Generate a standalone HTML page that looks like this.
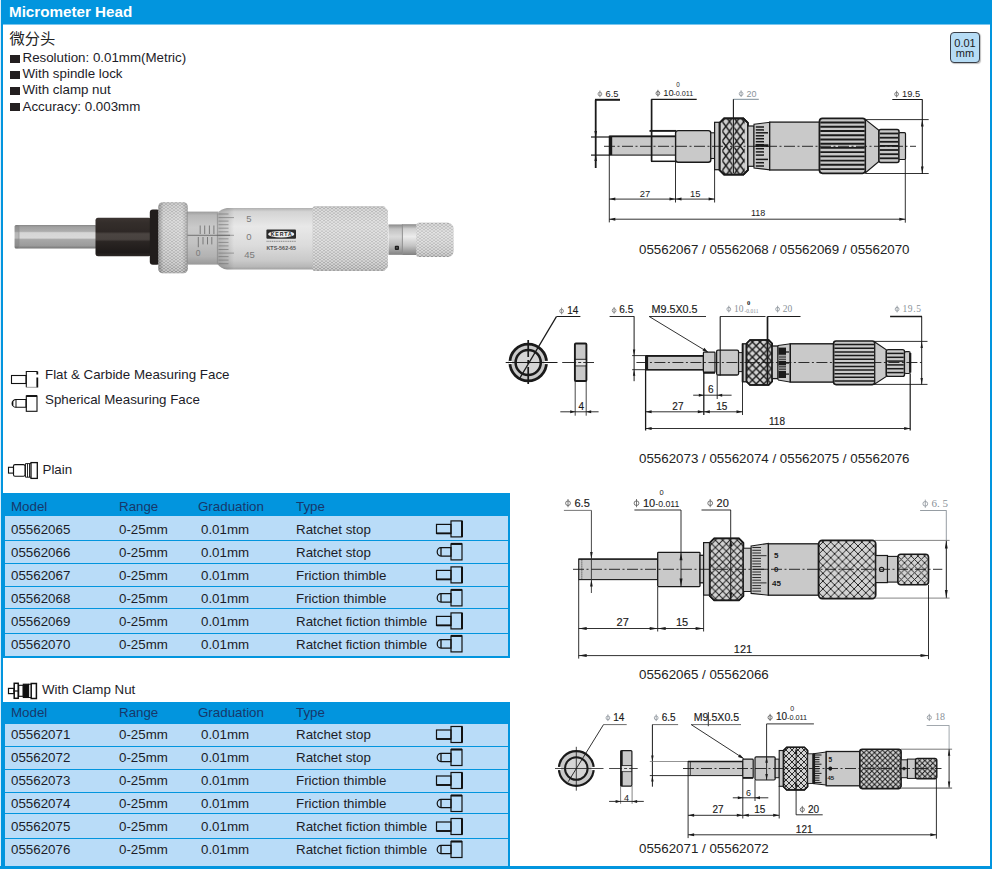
<!DOCTYPE html>
<html><head><meta charset="utf-8"><title>Micrometer Head</title>
<style>
html,body{margin:0;padding:0;background:#fff;}
body{width:992px;height:869px;position:relative;overflow:hidden;font-family:"Liberation Sans",sans-serif;color:#1c1c28;}
.abs{position:absolute;}
.t13{position:absolute;font-size:13.33px;line-height:16px;white-space:nowrap;}
.tbl{position:absolute;left:3px;width:507px;background:#0295de;}
.row{position:absolute;left:2px;width:503px;height:22px;background:#b9dcf8;}
.row span,.hdr span{position:absolute;top:4px;font-size:13px;line-height:16px;white-space:nowrap;}
.hdr{position:absolute;left:0;top:0;width:507px;height:23px;color:#17386b;}
svg{position:absolute;left:0;top:0;overflow:visible;}
svg text{font-family:"Liberation Sans",sans-serif;}
</style></head><body>
<div class="abs" style="left:0;top:0;width:992px;height:24px;background:#0295de;"></div>
<div class="abs" style="left:0;top:24px;width:992px;height:1px;background:#7ac6ee;"></div>
<div class="abs" style="left:0;top:0;width:1px;height:869px;background:#d9eefb;"></div>
<div class="abs" style="left:1px;top:0;width:2px;height:869px;background:#0295de;"></div>
<div class="abs" style="left:990px;top:0;width:2px;height:869px;background:#0295de;"></div>
<div class="abs" style="left:0;top:866px;width:992px;height:3px;background:#0295de;"></div>
<div class="abs" style="left:9px;top:3px;font-size:15.2px;line-height:18px;font-weight:bold;color:#fff;white-space:nowrap;">Micrometer Head</div>
<svg width="992" height="869" viewBox="0 0 992 869"><text x="9.5" y="43.66" font-size="15.3" fill="#222" style="font-family:'Liberation Sans','Noto Sans CJK SC',sans-serif;">微分头</text></svg>
<div class="abs" style="left:10px;top:54.5px;width:10px;height:8px;background:#231f20;"></div><div class="t13" style="left:22.5px;top:49.8px;">Resolution: 0.01mm(Metric)</div>
<div class="abs" style="left:10px;top:70.8px;width:10px;height:8px;background:#231f20;"></div><div class="t13" style="left:22.5px;top:66.1px;">With spindle lock</div>
<div class="abs" style="left:10px;top:87.1px;width:10px;height:8px;background:#231f20;"></div><div class="t13" style="left:22.5px;top:82.4px;">With clamp nut</div>
<div class="abs" style="left:10px;top:103.4px;width:10px;height:8px;background:#231f20;"></div><div class="t13" style="left:22.5px;top:98.7px;">Accuracy: 0.003mm</div>
<svg width="992" height="869" viewBox="0 0 992 869"><g fill="none" stroke="#111" stroke-width="1.1"><rect x="11.5" y="375.5" width="14.5" height="8"/><path d="M26.3 387.3 V371.5 H37.5"/><path d="M37.3 371.5 V374.5 M37.3 377.5 V387.5" stroke-width="1.8"/><path d="M26.3 387.3 H37" stroke="#888" stroke-width="0.8"/><path d="M16 399.5 H26 V407.3 H16 A3.8 3.9 0 0 1 16 399.5 Z"/><path d="M16 399.5 V407.3" stroke-width="1.0"/><path d="M12.6 401.5 V405.5" stroke-width="1.5"/><rect x="26.3" y="396" width="10.7" height="15.3"/><path d="M26.3 396 H37" stroke-width="1.9"/><rect x="8.5" y="467.3" width="5" height="5.8"/><rect x="13.5" y="464.6" width="11.5" height="11.7" rx="1.5"/><path d="M27.5 463.6 V477.2 M29.5 463.6 V477.2 M25.5 463.6 H31 M25.5 477.2 H31 M25.5 463.6 V477.2" stroke-width="0.9"/><rect x="31" y="462.6" width="6.3" height="15.8" stroke-width="1.3"/><rect x="8.5" y="688.4" width="5.5" height="5.2" stroke-width="1.2"/><rect x="14.2" y="683.3" width="4" height="15" stroke-width="1.5"/><path d="M13.5 691 H19" stroke-width="1.2"/><rect x="18.7" y="685.3" width="4.5" height="11" stroke-width="1.1"/><rect x="23.3" y="684.2" width="5.3" height="13.3" fill="#111"/><path d="M28.6 684.2 H31 M28.6 697.5 H31"/><rect x="31.2" y="683.5" width="5.2" height="15" stroke-width="1.5"/></g></svg>
<div class="t13" style="left:45px;top:366.8px;">Flat &amp; Carbide Measuring Face</div>
<div class="t13" style="left:45px;top:392.3px;">Spherical Measuring Face</div>
<div class="t13" style="left:42.5px;top:461.6px;">Plain</div>
<div class="t13" style="left:42px;top:681.8px;">With Clamp Nut</div>
<div class="abs" style="left:950px;top:32px;width:30px;height:31px;box-sizing:border-box;border:1px solid #3a3f48;border-radius:4px;background:#b6dcf5;box-shadow:1px 1px 1px rgba(0,0,0,.25);font-size:11px;line-height:9.5px;text-align:center;color:#1a1a22;padding-top:6px;">0.01<br>mm</div>
<svg width="992" height="869" viewBox="0 0 992 869">
<defs>
<linearGradient id="gSp" x1="0" y1="0" x2="0" y2="1"><stop offset="0" stop-color="#858585"/><stop offset="0.08" stop-color="#a0a0a0"/><stop offset="0.27" stop-color="#adadad"/><stop offset="0.33" stop-color="#d6d6d6"/><stop offset="0.55" stop-color="#d9d9d9"/><stop offset="0.62" stop-color="#a8a8a8"/><stop offset="0.88" stop-color="#9b9b9b"/><stop offset="1" stop-color="#747474"/></linearGradient>
<linearGradient id="gBk" x1="0" y1="0" x2="0" y2="1"><stop offset="0" stop-color="#3c3532"/><stop offset="0.12" stop-color="#342e2b"/><stop offset="0.36" stop-color="#2e2826"/><stop offset="0.42" stop-color="#4b4542"/><stop offset="0.56" stop-color="#48423f"/><stop offset="0.62" stop-color="#2a2523"/><stop offset="0.9" stop-color="#1e1a19"/><stop offset="1" stop-color="#2c2725"/></linearGradient>
<linearGradient id="gKn" x1="0" y1="0" x2="0" y2="1"><stop offset="0" stop-color="#a8a8a8"/><stop offset="0.05" stop-color="#bcbcbc"/><stop offset="0.3" stop-color="#cbcbcb"/><stop offset="0.6" stop-color="#c2c2c2"/><stop offset="0.85" stop-color="#b4b4b4"/><stop offset="0.96" stop-color="#a4a4a4"/><stop offset="1" stop-color="#929292"/></linearGradient>
<linearGradient id="gSl" x1="0" y1="0" x2="0" y2="1"><stop offset="0" stop-color="#b0b0b0"/><stop offset="0.06" stop-color="#d4d4d4"/><stop offset="0.3" stop-color="#e8e8e8"/><stop offset="0.6" stop-color="#dcdcdc"/><stop offset="0.85" stop-color="#cacaca"/><stop offset="0.95" stop-color="#b8b8b8"/><stop offset="1" stop-color="#a0a0a0"/></linearGradient>
<linearGradient id="gSv" x1="0" y1="0" x2="0" y2="1"><stop offset="0" stop-color="#9c9c9c"/><stop offset="0.07" stop-color="#b8b8b8"/><stop offset="0.3" stop-color="#cacaca"/><stop offset="0.6" stop-color="#c2c2c2"/><stop offset="0.85" stop-color="#b2b2b2"/><stop offset="1" stop-color="#999"/></linearGradient>
<linearGradient id="gEdge" x1="0" y1="0" x2="1" y2="0"><stop offset="0" stop-color="#000" stop-opacity=".28"/><stop offset=".18" stop-color="#000" stop-opacity=".04"/><stop offset=".8" stop-color="#000" stop-opacity=".02"/><stop offset="1" stop-color="#000" stop-opacity=".2"/></linearGradient><linearGradient id="gNk" x1="0" y1="0" x2="0" y2="1"><stop offset="0" stop-color="#8a8a8a"/><stop offset="0.15" stop-color="#cfcfcf"/><stop offset="0.4" stop-color="#ececec"/><stop offset="0.7" stop-color="#c4c4c4"/><stop offset="1" stop-color="#808080"/></linearGradient>
<pattern id="pKn" width="4" height="3" patternUnits="userSpaceOnUse"><path d="M0 0 L4 3 M4 0 L0 3" stroke="#fff" stroke-opacity=".6" stroke-width=".8" fill="none"/><path d="M2 0 L2.6 .5 L2 1 L1.4 .5Z M0 1.5 L.6 2 L0 2.5 L-.6 2Z M4 1.5 L4.6 2 L4 2.5 L3.4 2Z" fill="#555" fill-opacity=".25"/></pattern>
</defs>
<rect x="14.6" y="225" width="82" height="23.5" rx="1.5" fill="url(#gSp)"/><rect x="14.6" y="225" width="4.2" height="23.5" rx="1.5" fill="#666" fill-opacity=".28"/><path d="M19 225.3 V248.2" stroke="#888" stroke-width=".6"/><rect x="95.5" y="217.8" width="55.5" height="38.4" rx="2.5" fill="url(#gBk)"/><rect x="149.8" y="209.5" width="10" height="55.3" rx="3" fill="#211d1c"/><rect x="158.3" y="202.2" width="29.5" height="71" rx="4.5" fill="url(#gKn)"/><rect x="158.3" y="202.2" width="29.5" height="71" rx="4.5" fill="url(#pKn)"/><rect x="158.3" y="202.2" width="29.5" height="71" rx="4.5" fill="url(#gEdge)"/><rect x="187.3" y="211.6" width="31" height="53" fill="url(#gSv)"/><path d="M187.3 212 V263.5" stroke="#777" stroke-width=".8" stroke-opacity=".6"/><path d="M217.4 213.3 Q221 209 227 208 H313 V269.6 H227 Q221 268.8 217.4 264 Z" fill="url(#gSl)"/><linearGradient id="gBev" x1="0" y1="0" x2="1" y2="0"><stop offset="0" stop-color="#000" stop-opacity=".2"/><stop offset=".7" stop-color="#000" stop-opacity=".08"/><stop offset="1" stop-color="#000" stop-opacity="0"/></linearGradient><path d="M217.4 213.3 Q221 209 227 208 H234 V269.6 H227 Q221 268.8 217.4 264 Z" fill="url(#gBev)"/><path d="M217.4 213.3 V264" stroke="#8a8a8a" stroke-width=".7"/><g stroke="#555" stroke-width=".8" stroke-opacity=".85"><path d="M187.5 235.3 H230" stroke-width=".9"/><path d="M200.2 225.5 V234"/><path d="M204.7 225.5 V234"/><path d="M209.4 225.5 V234"/><path d="M213.9 225.5 V234"/><path d="M203 237 V244.4"/><path d="M207.5 237 V244.4"/><path d="M211.8 237 V244.4"/><path d="M198.3 237 V247.2"/></g><g stroke="#666" stroke-width=".7" stroke-opacity=".8"><path d="M218.5 214.0 H228.5"/><path d="M218.5 217.6 H234"/><path d="M218.5 221.1 H228.5"/><path d="M218.5 224.7 H228.5"/><path d="M218.5 228.2 H228.5"/><path d="M218.5 231.8 H228.5"/><path d="M218.5 235.3 H234"/><path d="M218.5 238.8 H228.5"/><path d="M218.5 242.4 H228.5"/><path d="M218.5 245.9 H228.5"/><path d="M218.5 249.5 H228.5"/><path d="M218.5 253.1 H234"/><path d="M218.5 256.6 H228.5"/><path d="M218.5 260.1 H228.5"/><path d="M218.5 263.7 H228.5"/></g><g fill="#7a7a7a" font-size="9.5" text-anchor="middle"><text x="198" y="256.3" font-size="8.5">0</text><text x="249" y="222.4">5</text><text x="249" y="240">0</text><text x="249.5" y="257.8">45</text></g><rect x="266.4" y="229.6" width="29.6" height="9.2" rx="1" fill="#2a2a2a"/><ellipse cx="281.2" cy="234.2" rx="13" ry="3.3" fill="#eee"/><text x="281.2" y="236.2" font-size="5.2" font-weight="bold" text-anchor="middle" fill="#222" textLength="21">KERTA</text><path d="M266.5 241.4 H296" stroke="#999" stroke-width="1.2" stroke-dasharray="1.2 .6"/><text x="266.4" y="250.2" font-size="5.3" font-weight="bold" fill="#555" textLength="29.6">KTS-562-65</text><path d="M315 206.2 H384 L387.9 210.5 V267 L384 271 H315 Q312.5 271 312.5 268.5 V208.7 Q312.5 206.2 315 206.2 Z" fill="url(#gKn)"/><path d="M315 206.2 H384 L387.9 210.5 V267 L384 271 H315 Q312.5 271 312.5 268.5 V208.7 Q312.5 206.2 315 206.2 Z" fill="url(#pKn)"/><rect x="388.5" y="224.5" width="14" height="30.3" fill="url(#gNk)"/><rect x="402.4" y="224.2" width="15" height="30.8" fill="url(#gNk)"/><rect x="388.5" y="224.5" width="14" height="30.3" fill="#888" fill-opacity=".18"/><path d="M402.4 224.2 V255" stroke="#8a8a8a" stroke-width=".9"/><rect x="394.8" y="245.7" width="4.2" height="4.2" rx="1" fill="#1e1e1e"/><rect x="396.1" y="247" width="1.6" height="1.6" fill="#555"/><path d="M419 222.8 H448 Q453.6 224 453.6 229 V251 Q453.6 256 448 257 H419 Q416.3 257 416.3 254.5 V225.3 Q416.3 222.8 419 222.8 Z" fill="url(#gKn)"/><path d="M419 222.8 H448 Q453.6 224 453.6 229 V251 Q453.6 256 448 257 H419 Q416.3 257 416.3 254.5 V225.3 Q416.3 222.8 419 222.8 Z" fill="url(#pKn)"/></svg>
<div class="abs" style="left:3px;top:493px;width:507px;height:165px;background:#0295de;"></div>
<div class="abs" style="left:5px;top:516px;width:503px;height:24px;background:#b9dcf8;"></div>
<div class="abs" style="left:5px;top:541px;width:503px;height:22px;background:#b9dcf8;"></div>
<div class="abs" style="left:5px;top:564px;width:503px;height:22px;background:#b9dcf8;"></div>
<div class="abs" style="left:5px;top:587px;width:503px;height:21px;background:#b9dcf8;"></div>
<div class="abs" style="left:5px;top:609px;width:503px;height:24px;background:#b9dcf8;"></div>
<div class="abs" style="left:5px;top:634px;width:503px;height:22px;background:#b9dcf8;"></div>
<div class="t13" style="left:11px;top:498.8px;color:#17386b;">Model</div><div class="t13" style="left:119px;top:498.8px;color:#17386b;">Range</div><div class="t13" style="left:198px;top:498.8px;color:#17386b;">Graduation</div><div class="t13" style="left:296px;top:498.8px;color:#17386b;">Type</div>
<div class="t13" style="left:11px;top:521.8px;color:#1c1c28;">05562065</div><div class="t13" style="left:119px;top:521.8px;color:#1c1c28;">0-25mm</div><div class="t13" style="left:201px;top:521.8px;color:#1c1c28;">0.01mm</div><div class="t13" style="left:296px;top:521.8px;color:#1c1c28;">Ratchet stop</div>
<div class="t13" style="left:11px;top:544.8px;color:#1c1c28;">05562066</div><div class="t13" style="left:119px;top:544.8px;color:#1c1c28;">0-25mm</div><div class="t13" style="left:201px;top:544.8px;color:#1c1c28;">0.01mm</div><div class="t13" style="left:296px;top:544.8px;color:#1c1c28;">Ratchet stop</div>
<div class="t13" style="left:11px;top:567.8px;color:#1c1c28;">05562067</div><div class="t13" style="left:119px;top:567.8px;color:#1c1c28;">0-25mm</div><div class="t13" style="left:201px;top:567.8px;color:#1c1c28;">0.01mm</div><div class="t13" style="left:296px;top:567.8px;color:#1c1c28;">Friction thimble</div>
<div class="t13" style="left:11px;top:590.8px;color:#1c1c28;">05562068</div><div class="t13" style="left:119px;top:590.8px;color:#1c1c28;">0-25mm</div><div class="t13" style="left:201px;top:590.8px;color:#1c1c28;">0.01mm</div><div class="t13" style="left:296px;top:590.8px;color:#1c1c28;">Friction thimble</div>
<div class="t13" style="left:11px;top:613.8px;color:#1c1c28;">05562069</div><div class="t13" style="left:119px;top:613.8px;color:#1c1c28;">0-25mm</div><div class="t13" style="left:201px;top:613.8px;color:#1c1c28;">0.01mm</div><div class="t13" style="left:296px;top:613.8px;color:#1c1c28;">Ratchet fiction thimble</div>
<div class="t13" style="left:11px;top:636.8px;color:#1c1c28;">05562070</div><div class="t13" style="left:119px;top:636.8px;color:#1c1c28;">0-25mm</div><div class="t13" style="left:201px;top:636.8px;color:#1c1c28;">0.01mm</div><div class="t13" style="left:296px;top:636.8px;color:#1c1c28;">Ratchet fiction thimble</div>
<svg width="992" height="869" viewBox="0 0 992 869"><g fill="none" stroke="#111" stroke-width="1.2"><rect x="436.5" y="524.4" width="14.5" height="9"/><rect x="451" y="520.9" width="11" height="16"/><path d="M462 520.9 V536.9" stroke-width="2"/><path d="M436.5 533.4 H451" stroke-width="1.8"/></g><g fill="none" stroke="#111" stroke-width="1.2"><path d="M441 547.6999999999999 H451 V556.1 H441 A3.8 4.2 0 0 1 441 547.6999999999999 Z"/><path d="M441 547.6999999999999 V556.1" stroke-width="1.3"/><rect x="451" y="543.9" width="11" height="16"/><path d="M451 543.9 H462" stroke-width="2"/></g><g fill="none" stroke="#111" stroke-width="1.2"><rect x="436.5" y="570.4" width="14.5" height="9"/><rect x="451" y="566.9" width="11" height="16"/><path d="M462 566.9 V582.9" stroke-width="2"/><path d="M436.5 579.4 H451" stroke-width="1.8"/></g><g fill="none" stroke="#111" stroke-width="1.2"><path d="M441 593.6999999999999 H451 V602.1 H441 A3.8 4.2 0 0 1 441 593.6999999999999 Z"/><path d="M441 593.6999999999999 V602.1" stroke-width="1.3"/><rect x="451" y="589.9" width="11" height="16"/><path d="M451 589.9 H462" stroke-width="2"/></g><g fill="none" stroke="#111" stroke-width="1.2"><rect x="436.5" y="616.4" width="14.5" height="9"/><rect x="451" y="612.9" width="11" height="16"/><path d="M462 612.9 V628.9" stroke-width="2"/><path d="M436.5 625.4 H451" stroke-width="1.8"/></g><g fill="none" stroke="#111" stroke-width="1.2"><path d="M441 639.6999999999999 H451 V648.1 H441 A3.8 4.2 0 0 1 441 639.6999999999999 Z"/><path d="M441 639.6999999999999 V648.1" stroke-width="1.3"/><rect x="451" y="635.9" width="11" height="16"/><path d="M451 635.9 H462" stroke-width="2"/></g></svg>
<div class="abs" style="left:3px;top:702px;width:507px;height:165px;background:#0295de;"></div>
<div class="abs" style="left:5px;top:724px;width:503px;height:22px;background:#b9dcf8;"></div>
<div class="abs" style="left:5px;top:747px;width:503px;height:22px;background:#b9dcf8;"></div>
<div class="abs" style="left:5px;top:770px;width:503px;height:22px;background:#b9dcf8;"></div>
<div class="abs" style="left:5px;top:793px;width:503px;height:20px;background:#b9dcf8;"></div>
<div class="abs" style="left:5px;top:814px;width:503px;height:24px;background:#b9dcf8;"></div>
<div class="abs" style="left:5px;top:839px;width:503px;height:27px;background:#b9dcf8;"></div>
<div class="t13" style="left:11px;top:704.6px;color:#17386b;">Model</div><div class="t13" style="left:119px;top:704.6px;color:#17386b;">Range</div><div class="t13" style="left:198px;top:704.6px;color:#17386b;">Graduation</div><div class="t13" style="left:296px;top:704.6px;color:#17386b;">Type</div>
<div class="t13" style="left:11px;top:727.4px;color:#1c1c28;">05562071</div><div class="t13" style="left:119px;top:727.4px;color:#1c1c28;">0-25mm</div><div class="t13" style="left:201px;top:727.4px;color:#1c1c28;">0.01mm</div><div class="t13" style="left:296px;top:727.4px;color:#1c1c28;">Ratchet stop</div>
<div class="t13" style="left:11px;top:750.4px;color:#1c1c28;">05562072</div><div class="t13" style="left:119px;top:750.4px;color:#1c1c28;">0-25mm</div><div class="t13" style="left:201px;top:750.4px;color:#1c1c28;">0.01mm</div><div class="t13" style="left:296px;top:750.4px;color:#1c1c28;">Ratchet stop</div>
<div class="t13" style="left:11px;top:773.4px;color:#1c1c28;">05562073</div><div class="t13" style="left:119px;top:773.4px;color:#1c1c28;">0-25mm</div><div class="t13" style="left:201px;top:773.4px;color:#1c1c28;">0.01mm</div><div class="t13" style="left:296px;top:773.4px;color:#1c1c28;">Friction thimble</div>
<div class="t13" style="left:11px;top:796.4px;color:#1c1c28;">05562074</div><div class="t13" style="left:119px;top:796.4px;color:#1c1c28;">0-25mm</div><div class="t13" style="left:201px;top:796.4px;color:#1c1c28;">0.01mm</div><div class="t13" style="left:296px;top:796.4px;color:#1c1c28;">Friction thimble</div>
<div class="t13" style="left:11px;top:819.4px;color:#1c1c28;">05562075</div><div class="t13" style="left:119px;top:819.4px;color:#1c1c28;">0-25mm</div><div class="t13" style="left:201px;top:819.4px;color:#1c1c28;">0.01mm</div><div class="t13" style="left:296px;top:819.4px;color:#1c1c28;">Ratchet fiction thimble</div>
<div class="t13" style="left:11px;top:842.4px;color:#1c1c28;">05562076</div><div class="t13" style="left:119px;top:842.4px;color:#1c1c28;">0-25mm</div><div class="t13" style="left:201px;top:842.4px;color:#1c1c28;">0.01mm</div><div class="t13" style="left:296px;top:842.4px;color:#1c1c28;">Ratchet fiction thimble</div>
<svg width="992" height="869" viewBox="0 0 992 869"><g fill="none" stroke="#111" stroke-width="1.2"><rect x="436.5" y="730.0" width="14.5" height="9"/><rect x="451" y="726.5" width="11" height="16"/><path d="M462 726.5 V742.5" stroke-width="2"/><path d="M436.5 739.0 H451" stroke-width="1.8"/></g><g fill="none" stroke="#111" stroke-width="1.2"><path d="M441 753.3 H451 V761.7 H441 A3.8 4.2 0 0 1 441 753.3 Z"/><path d="M441 753.3 V761.7" stroke-width="1.3"/><rect x="451" y="749.5" width="11" height="16"/><path d="M451 749.5 H462" stroke-width="2"/></g><g fill="none" stroke="#111" stroke-width="1.2"><rect x="436.5" y="776.0" width="14.5" height="9"/><rect x="451" y="772.5" width="11" height="16"/><path d="M462 772.5 V788.5" stroke-width="2"/><path d="M436.5 785.0 H451" stroke-width="1.8"/></g><g fill="none" stroke="#111" stroke-width="1.2"><path d="M441 799.3 H451 V807.7 H441 A3.8 4.2 0 0 1 441 799.3 Z"/><path d="M441 799.3 V807.7" stroke-width="1.3"/><rect x="451" y="795.5" width="11" height="16"/><path d="M451 795.5 H462" stroke-width="2"/></g><g fill="none" stroke="#111" stroke-width="1.2"><rect x="436.5" y="822.0" width="14.5" height="9"/><rect x="451" y="818.5" width="11" height="16"/><path d="M462 818.5 V834.5" stroke-width="2"/><path d="M436.5 831.0 H451" stroke-width="1.8"/></g><g fill="none" stroke="#111" stroke-width="1.2"><path d="M441 845.3 H451 V853.7 H441 A3.8 4.2 0 0 1 441 845.3 Z"/><path d="M441 845.3 V853.7" stroke-width="1.3"/><rect x="451" y="841.5" width="11" height="16"/><path d="M451 841.5 H462" stroke-width="2"/></g></svg>
<svg width="992" height="869" viewBox="0 0 992 869"><defs><pattern id="h1" x="722.3" y="121.5" width="7.2" height="9.8" patternUnits="userSpaceOnUse"><path d="M0 0 L7.2 9.8 M7.2 0 L0 9.8" stroke="#1a1a1a" stroke-width="1.45" fill="none"/></pattern><pattern id="h2" width="7.6" height="7.6" patternUnits="userSpaceOnUse"><path d="M0 0 L7.6 7.6 M7.6 0 L0 7.6" stroke="#1a1a1a" stroke-width="1.4" fill="none"/></pattern><pattern id="h3a" width="7.3" height="7.3" patternUnits="userSpaceOnUse"><path d="M0 0 L7.3 7.3 M7.3 0 L0 7.3" stroke="#1a1a1a" stroke-width="0.95" fill="none"/></pattern><pattern id="h3" width="7.8" height="7.8" patternUnits="userSpaceOnUse"><path d="M0 0 L7.8 7.8 M7.8 0 L0 7.8" stroke="#1a1a1a" stroke-width="0.95" fill="none"/></pattern><pattern id="h3c" width="6.7" height="6.7" patternUnits="userSpaceOnUse"><path d="M0 0 L6.7 6.7 M6.7 0 L0 6.7" stroke="#1a1a1a" stroke-width="0.9" fill="none"/></pattern><pattern id="h4a" width="6.0" height="6.0" patternUnits="userSpaceOnUse"><path d="M0 0 L6.0 6.0 M6.0 0 L0 6.0" stroke="#1a1a1a" stroke-width="0.9" fill="none"/></pattern><pattern id="h4" width="5.3" height="5.3" patternUnits="userSpaceOnUse"><path d="M0 0 L5.3 5.3 M5.3 0 L0 5.3" stroke="#1a1a1a" stroke-width="1.0" fill="none"/></pattern><pattern id="h4c" width="5.3" height="5.3" patternUnits="userSpaceOnUse"><path d="M0 0 L5.3 5.3 M5.3 0 L0 5.3" stroke="#1a1a1a" stroke-width="1.0" fill="none"/></pattern></defs><g><rect x="609.3" y="136.3" width="66.3" height="18.8" rx="0" fill="#c9c9c9" stroke="#1a1a1a" stroke-width="1.1"/><path d="M609.3 136.3 L675.6 136.3" stroke="#1a1a1a" stroke-width="1.8" fill="none"/><rect x="609" y="136.3" width="3.2" height="18.8" fill="#1a1a1a"/><rect x="675.6" y="130.6" width="35.2" height="31.7" rx="2.5" fill="#c9c9c9" stroke="#1a1a1a" stroke-width="1.4"/><rect x="710.8" y="132.8" width="3.8" height="25.7" rx="0" fill="#c9c9c9" stroke="#1a1a1a" stroke-width="1.1"/><rect x="714.6" y="122.3" width="5.0" height="47.4" rx="0" fill="#c9c9c9" stroke="#1a1a1a" stroke-width="1.2"/><path d="M724.1 118.3 H743.4 L747.9 122.8 V170.1 L743.4 174.6 H724.1 L719.6 170.1 V122.8 Z" fill="#d0d0d0" stroke="#1a1a1a" stroke-width="1.7"/><clipPath id="ck1"><path d="M724.1 118.3 H743.4 L747.9 122.8 V170.1 L743.4 174.6 H724.1 L719.6 170.1 V122.8 Z"/></clipPath><rect x="722.3" y="118.3" width="22.4" height="56.3" fill="url(#h1)" clip-path="url(#ck1)"/><path d="M724.1 118.3 H743.4 L747.9 122.8 V170.1 L743.4 174.6 H724.1 L719.6 170.1 V122.8 Z" fill="none" stroke="#1a1a1a" stroke-width="1.7"/><rect x="747.9" y="126" width="6.1" height="40.3" rx="0" fill="#c9c9c9" stroke="#1a1a1a" stroke-width="1.2"/><path d="M754 124.2 L769.7 122.3 V169.8 L754 168 Z" fill="#c9c9c9" stroke="#1a1a1a" stroke-width="1.1"/><path d="M755.8 127 L764 127" stroke="#1a1a1a" stroke-width="1.5" fill="none"/><path d="M755.8 129.9 L764 129.9" stroke="#1a1a1a" stroke-width="1.5" fill="none"/><path d="M755.8 132.8 L768 132.8" stroke="#1a1a1a" stroke-width="1.5" fill="none"/><path d="M755.8 135.8 L764 135.8" stroke="#1a1a1a" stroke-width="1.5" fill="none"/><path d="M755.8 138.7 L764 138.7" stroke="#1a1a1a" stroke-width="1.5" fill="none"/><path d="M755.8 141.7 L764 141.7" stroke="#1a1a1a" stroke-width="1.5" fill="none"/><path d="M755.8 144.7 L764 144.7" stroke="#1a1a1a" stroke-width="1.5" fill="none"/><path d="M755.8 148.7 L764 148.7" stroke="#1a1a1a" stroke-width="1.5" fill="none"/><path d="M755.8 151.9 L764 151.9" stroke="#1a1a1a" stroke-width="1.5" fill="none"/><path d="M755.8 155.1 L764 155.1" stroke="#1a1a1a" stroke-width="1.5" fill="none"/><path d="M755.8 159.4 L768 159.4" stroke="#1a1a1a" stroke-width="1.5" fill="none"/><path d="M755.8 162.7 L764 162.7" stroke="#1a1a1a" stroke-width="1.5" fill="none"/><path d="M755.8 166 L764 166" stroke="#1a1a1a" stroke-width="1.5" fill="none"/><path d="M755.5 145.6 L768.5 145.6" stroke="#1a1a1a" stroke-width="2.6" fill="none"/><rect x="769.7" y="122.1" width="49.8" height="47.9" rx="0" fill="#c9c9c9" stroke="#1a1a1a" stroke-width="1.3"/><rect x="819.5" y="118.3" width="46.0" height="55.0" rx="3" fill="#c9c9c9" stroke="#1a1a1a" stroke-width="1.7"/><path d="M820.3 122.5 L864.7 122.5" stroke="#1a1a1a" stroke-width="1.9" fill="none"/><path d="M820.3 126.8 L864.7 126.8" stroke="#1a1a1a" stroke-width="1.9" fill="none"/><path d="M820.3 131.0 L864.7 131.0" stroke="#1a1a1a" stroke-width="1.9" fill="none"/><path d="M820.3 135.2 L864.7 135.2" stroke="#1a1a1a" stroke-width="1.9" fill="none"/><path d="M820.3 139.5 L864.7 139.5" stroke="#1a1a1a" stroke-width="1.9" fill="none"/><path d="M820.3 143.7 L864.7 143.7" stroke="#1a1a1a" stroke-width="1.9" fill="none"/><path d="M820.3 147.9 L864.7 147.9" stroke="#1a1a1a" stroke-width="1.9" fill="none"/><path d="M820.3 152.1 L864.7 152.1" stroke="#1a1a1a" stroke-width="1.9" fill="none"/><path d="M820.3 156.4 L864.7 156.4" stroke="#1a1a1a" stroke-width="1.9" fill="none"/><path d="M820.3 160.6 L864.7 160.6" stroke="#1a1a1a" stroke-width="1.9" fill="none"/><path d="M820.3 164.8 L864.7 164.8" stroke="#1a1a1a" stroke-width="1.9" fill="none"/><path d="M820.3 169.1 L864.7 169.1" stroke="#1a1a1a" stroke-width="1.9" fill="none"/><path d="M865.5 119.6 L878.9 130.2 V161.4 L865.5 172.8 Z" fill="#c9c9c9" stroke="#1a1a1a" stroke-width="1.2"/><rect x="878.9" y="129.4" width="20.1" height="33.0" rx="2" fill="#c9c9c9" stroke="#1a1a1a" stroke-width="1.5"/><path d="M879.6999999999999 133.5 L898.2 133.5" stroke="#1a1a1a" stroke-width="1.8" fill="none"/><path d="M879.6999999999999 137.7 L898.2 137.7" stroke="#1a1a1a" stroke-width="1.8" fill="none"/><path d="M879.6999999999999 141.8 L898.2 141.8" stroke="#1a1a1a" stroke-width="1.8" fill="none"/><path d="M879.6999999999999 145.9 L898.2 145.9" stroke="#1a1a1a" stroke-width="1.8" fill="none"/><path d="M879.6999999999999 150.0 L898.2 150.0" stroke="#1a1a1a" stroke-width="1.8" fill="none"/><path d="M879.6999999999999 154.2 L898.2 154.2" stroke="#1a1a1a" stroke-width="1.8" fill="none"/><path d="M879.6999999999999 158.3 L898.2 158.3" stroke="#1a1a1a" stroke-width="1.8" fill="none"/><rect x="899" y="132.7" width="6.5" height="26.8" rx="1" fill="#c9c9c9" stroke="#1a1a1a" stroke-width="1.2"/><path d="M604 146.3 H916" stroke="#1a1a1a" stroke-width="0.9" stroke-dasharray="11 2.5 2 2.5" fill="none"/><ellipse cx="599.9" cy="94.0" rx="1.9" ry="1.9" fill="none" stroke="#777" stroke-width="0.8"/><path d="M599.9 90.5 V97.2" stroke="#777" stroke-width="0.8"/><text x="605.5" y="96.7" font-size="9.3" fill="#1a1a1a" text-anchor="start">6.5</text><path d="M595 99.8 L620 99.8" stroke="#1a1a1a" stroke-width="2.0" fill="none"/><path d="M595.7 99.8 L595.7 168" stroke="#1a1a1a" stroke-width="1.8" fill="none"/><path d="M591 137 L609.5 137" stroke="#1a1a1a" stroke-width="1.2" fill="none"/><path d="M591 155.1 L609.5 155.1" stroke="#1a1a1a" stroke-width="1.2" fill="none"/><polygon points="595.7,137.0 594.4,131.0 597.0,131.0" fill="#1a1a1a"/><polygon points="595.7,155.1 594.4,161.1 597.0,161.1" fill="#1a1a1a"/><ellipse cx="657.9" cy="93.3" rx="1.9" ry="1.9" fill="none" stroke="#555" stroke-width="0.8"/><path d="M657.9 89.8 V96.5" stroke="#555" stroke-width="0.8"/><text x="663.3" y="96" font-size="9.3" fill="#1a1a1a" text-anchor="start">10</text><text x="673.3" y="96" font-size="7.2" fill="#1a1a1a" text-anchor="start">-0.011</text><text x="678" y="86.6" font-size="6.3" fill="#1a1a1a" text-anchor="middle">0</text><path d="M651.3 99.3 L696.7 99.3" stroke="#1a1a1a" stroke-width="1.2" fill="none"/><path d="M651.6 99.3 L651.6 161.3" stroke="#1a1a1a" stroke-width="1.7" fill="none"/><path d="M649.5 130.9 L676 130.9" stroke="#1a1a1a" stroke-width="1.9" fill="none"/><path d="M651 161.3 L676 161.3" stroke="#1a1a1a" stroke-width="1.5" fill="none"/><ellipse cx="741.1" cy="93.8" rx="1.9" ry="1.9" fill="none" stroke="#8a9299" stroke-width="0.8"/><path d="M741.1 90.3 V97.0" stroke="#8a9299" stroke-width="0.8"/><text x="746.5" y="96.5" font-size="9" fill="#8a9299" text-anchor="start">20</text><path d="M733.3 99.3 L758.8 99.3" stroke="#6d7f8c" stroke-width="0.9" fill="none"/><rect x="732.2" y="119.5" width="2.4" height="54" fill="#d2d2d2" fill-opacity=".5"/><path d="M733.4 99.3 L733.4 173" stroke="#1a1a1a" stroke-width="1.1" fill="none"/><ellipse cx="896.6" cy="94.2" rx="1.9" ry="1.9" fill="none" stroke="#666" stroke-width="0.8"/><path d="M896.6 90.7 V97.4" stroke="#666" stroke-width="0.8"/><text x="902" y="96.9" font-size="9.3" fill="#1a1a1a" text-anchor="start">19.5</text><path d="M892.3 99.5 L922.5 99.5" stroke="#1a1a1a" stroke-width="1.0" fill="none"/><path d="M922.3 99.5 L922.3 174" stroke="#1a1a1a" stroke-width="1.1" fill="none"/><path d="M865.5 119.6 L928.7 119.6" stroke="#1a1a1a" stroke-width="0.9" fill="none"/><path d="M865.5 173.5 L928.7 173.5" stroke="#1a1a1a" stroke-width="0.9" fill="none"/><polygon points="922.3,119.6 921.0,126.6 923.6,126.6" fill="#1a1a1a"/><polygon points="922.3,173.5 921.0,166.5 923.6,166.5" fill="#1a1a1a"/><path d="M609.3 155 L609.3 222.4" stroke="#1a1a1a" stroke-width="0.9" fill="none"/><path d="M675.5 162 L675.5 202.5" stroke="#1a1a1a" stroke-width="0.9" fill="none"/><path d="M714.6 170 L714.6 202.5" stroke="#1a1a1a" stroke-width="0.9" fill="none"/><path d="M905.3 159.5 L905.3 222.7" stroke="#1a1a1a" stroke-width="0.9" fill="none"/><path d="M609.3 199.1 L675.5 199.1" stroke="#1a1a1a" stroke-width="0.9" fill="none"/><polygon points="609.3,199.1 615.3,197.6 615.3,200.6" fill="#1a1a1a"/><polygon points="675.5,199.1 669.5,197.6 669.5,200.6" fill="#1a1a1a"/><text x="644.9" y="196.8" font-size="9.4" fill="#1a1a1a" text-anchor="middle">27</text><path d="M675.5 199.1 L714.6 199.1" stroke="#1a1a1a" stroke-width="0.9" fill="none"/><polygon points="675.5,199.1 681.5,197.6 681.5,200.6" fill="#1a1a1a"/><polygon points="714.6,199.1 708.6,197.6 708.6,200.6" fill="#1a1a1a"/><text x="695.3" y="197.3" font-size="9.4" fill="#1a1a1a" text-anchor="middle">15</text><path d="M609.3 219.2 L905.3 219.2" stroke="#1a1a1a" stroke-width="0.9" fill="none"/><polygon points="609.3,219.2 615.3,217.7 615.3,220.7" fill="#1a1a1a"/><polygon points="905.3,219.2 899.3,217.7 899.3,220.7" fill="#1a1a1a"/><text x="758.2" y="216.4" font-size="9" fill="#1a1a1a" text-anchor="middle">118</text></g>
<g><circle cx="528.2" cy="362.5" r="18.3" fill="#c9c9c9" stroke="#1a1a1a" stroke-width="2.8"/><circle cx="528.2" cy="362.5" r="12.6" fill="#d4d4d4" stroke="#1a1a1a" stroke-width="2.5"/><rect x="508.3" y="360.9" width="3.8" height="3.2" fill="#fff"/><rect x="544.3" y="360.9" width="3.8" height="3.2" fill="#fff"/><path d="M505.7 362.5 L557.5 362.5" stroke="#1a1a1a" stroke-width="1.0" fill="none"/><path d="M528.2 340 L528.2 386.6" stroke="#1a1a1a" stroke-width="1.7" fill="none" stroke-dasharray="17 3 4 3"/><path d="M580.4 316.5 L556.5 316.5" stroke="#1a1a1a" stroke-width="1.0" fill="none"/><path d="M556.5 316.5 L519 379.5" stroke="#1a1a1a" stroke-width="1.4" fill="none"/><ellipse cx="561.6" cy="311.1" rx="1.9" ry="1.9" fill="none" stroke="#777" stroke-width="0.8"/><path d="M561.6 307.6 V314.3" stroke="#777" stroke-width="0.8"/><text x="567.3" y="313.8" font-size="10" fill="#1a1a1a" stroke="#1a1a1a" stroke-width="0.15" text-anchor="start">14</text><rect x="574.9" y="343.5" width="11.5" height="37.5" rx="1" fill="#c9c9c9" stroke="#1a1a1a" stroke-width="1.9"/><path d="M574.9 359.3 L586.4 359.3" stroke="#1a1a1a" stroke-width="0.9" fill="none"/><path d="M574.9 365.9 L586.4 365.9" stroke="#1a1a1a" stroke-width="0.9" fill="none"/><rect x="576" y="360" width="9.4" height="5.2" fill="#e4e4e4"/><path d="M562.2 362.5 H594" stroke="#1a1a1a" stroke-width="0.9" stroke-dasharray="14 2 3 2"/><path d="M575.2 381 L575.2 415.7" stroke="#1a1a1a" stroke-width="0.8" fill="none"/><path d="M586.2 381 L586.2 415.7" stroke="#1a1a1a" stroke-width="0.8" fill="none"/><path d="M560.3 411.8 L598.6 411.8" stroke="#1a1a1a" stroke-width="0.9" fill="none"/><polygon points="575.2,411.8 570.2,410.3 570.2,413.3" fill="#1a1a1a"/><polygon points="586.2,411.8 591.2,410.3 591.2,413.3" fill="#1a1a1a"/><text x="581.2" y="410.3" font-size="10" fill="#1a1a1a" stroke="#1a1a1a" stroke-width="0.15" text-anchor="middle">4</text><ellipse cx="614.1" cy="310.5" rx="1.9" ry="1.9" fill="none" stroke="#777" stroke-width="0.8"/><path d="M614.1 307.0 V313.7" stroke="#777" stroke-width="0.8"/><text x="619.3" y="313.2" font-size="10" fill="#1a1a1a" stroke="#1a1a1a" stroke-width="0.15" text-anchor="start">6.5</text><path d="M609.6 316.5 L634.3 316.5" stroke="#1a1a1a" stroke-width="0.9" fill="none"/><path d="M634.1 316.5 L634.1 381.2" stroke="#1a1a1a" stroke-width="1.0" fill="none"/><path d="M632.2 355.6 L645.6 355.6" stroke="#1a1a1a" stroke-width="0.9" fill="none"/><path d="M632.2 369.7 L645.6 369.7" stroke="#1a1a1a" stroke-width="0.9" fill="none"/><polygon points="634.1,355.6 632.9,349.6 635.3,349.6" fill="#1a1a1a"/><polygon points="634.1,369.7 632.9,375.7 635.3,375.7" fill="#1a1a1a"/><text x="651.5" y="312.8" font-size="10" fill="#1a1a1a" stroke="#1a1a1a" stroke-width="0.15" text-anchor="start" textLength="46" lengthAdjust="spacingAndGlyphs">M9.5X0.5</text><path d="M649.2 316.5 L706 316.5" stroke="#1a1a1a" stroke-width="0.9" fill="none"/><path d="M649.2 316.5 L708 352.2" stroke="#1a1a1a" stroke-width="0.9" fill="none"/><polygon points="708.0,352.2 708.0,352.2 708.0,352.2" fill="#1a1a1a"/><polygon points="708.3,352.4 702.5,350.6 704.3,347.8" fill="#1a1a1a"/><rect x="645.6" y="355.9" width="57.8" height="13.8" rx="0" fill="#c9c9c9" stroke="#1a1a1a" stroke-width="1.1"/><path d="M645.6 355.9 L703.4 355.9" stroke="#1a1a1a" stroke-width="1.6" fill="none"/><path d="M645.6 369.8 L703.4 369.8" stroke="#1a1a1a" stroke-width="1.3" fill="none"/><rect x="645.3" y="355.9" width="2.8" height="13.8" fill="#1a1a1a"/><rect x="703.4" y="352.2" width="11.6" height="20.4" rx="0.8" fill="#c9c9c9" stroke="#1a1a1a" stroke-width="1.2"/><path d="M703.4 372.6 L715 372.6" stroke="#1a1a1a" stroke-width="2.2" fill="none"/><rect x="716.6" y="350.2" width="22.0" height="24.8" rx="1.5" fill="#c9c9c9" stroke="#1a1a1a" stroke-width="1.3"/><rect x="738.6" y="352.6" width="3.9" height="19.0" rx="0" fill="#c9c9c9" stroke="#1a1a1a" stroke-width="1.0"/><rect x="742.5" y="343.8" width="4.0" height="38.0" rx="0" fill="#c9c9c9" stroke="#1a1a1a" stroke-width="1.3"/><path d="M742.7 343.8 L742.7 381.8" stroke="#1a1a1a" stroke-width="1.8" fill="none"/><path d="M750.0 340 H768.7 L772.2 343.5 V381.5 L768.7 385 H750.0 L746.5 381.5 V343.5 Z" fill="#d2d2d2" stroke="#1a1a1a" stroke-width="1.3"/><path d="M750.0 340 H768.7 L772.2 343.5 V381.5 L768.7 385 H750.0 L746.5 381.5 V343.5 Z" fill="url(#h2)" stroke="#1a1a1a" stroke-width="1.6"/><rect x="772.2" y="346" width="5.8" height="32.6" rx="0" fill="#c9c9c9" stroke="#1a1a1a" stroke-width="1.3"/><path d="M778 345.5 L790.3 343.8 V382.1 L778 380 Z" fill="#c9c9c9" stroke="#1a1a1a" stroke-width="1.0"/><path d="M779 356.2 L786 356.2" stroke="#1a1a1a" stroke-width="0.8" fill="none"/><path d="M779 357.8 L786 357.8" stroke="#1a1a1a" stroke-width="0.8" fill="none"/><path d="M779 359.4 L786 359.4" stroke="#1a1a1a" stroke-width="0.8" fill="none"/><path d="M779 366.6 L786 366.6" stroke="#1a1a1a" stroke-width="0.8" fill="none"/><path d="M779 368 L786 368" stroke="#1a1a1a" stroke-width="0.8" fill="none"/><path d="M779 369.4 L786 369.4" stroke="#1a1a1a" stroke-width="0.8" fill="none"/><rect x="778.5" y="347.6" width="7.5" height="7.2" fill="#1a1a1a"/><rect x="778.5" y="360.8" width="7.5" height="4.6" fill="#1a1a1a"/><rect x="778.5" y="370.8" width="7.5" height="7.2" fill="#1a1a1a"/><path d="M785 352 L789 352" stroke="#1a1a1a" stroke-width="1.3" fill="none"/><path d="M785 363 L789 363" stroke="#1a1a1a" stroke-width="1.3" fill="none"/><path d="M785 374.1 L789 374.1" stroke="#1a1a1a" stroke-width="1.3" fill="none"/><rect x="790.3" y="343.8" width="43.3" height="38.3" rx="0" fill="#c9c9c9" stroke="#1a1a1a" stroke-width="1.4"/><rect x="833.6" y="341" width="41.2" height="43.6" rx="2.5" fill="#c9c9c9" stroke="#1a1a1a" stroke-width="1.6"/><path d="M834.4 344.6 L874.0 344.6" stroke="#1a1a1a" stroke-width="1.5" fill="none"/><path d="M834.4 348.3 L874.0 348.3" stroke="#1a1a1a" stroke-width="1.5" fill="none"/><path d="M834.4 351.9 L874.0 351.9" stroke="#1a1a1a" stroke-width="1.5" fill="none"/><path d="M834.4 355.5 L874.0 355.5" stroke="#1a1a1a" stroke-width="1.5" fill="none"/><path d="M834.4 359.2 L874.0 359.2" stroke="#1a1a1a" stroke-width="1.5" fill="none"/><path d="M834.4 362.8 L874.0 362.8" stroke="#1a1a1a" stroke-width="1.5" fill="none"/><path d="M834.4 366.4 L874.0 366.4" stroke="#1a1a1a" stroke-width="1.5" fill="none"/><path d="M834.4 370.1 L874.0 370.1" stroke="#1a1a1a" stroke-width="1.5" fill="none"/><path d="M834.4 373.7 L874.0 373.7" stroke="#1a1a1a" stroke-width="1.5" fill="none"/><path d="M834.4 377.3 L874.0 377.3" stroke="#1a1a1a" stroke-width="1.5" fill="none"/><path d="M834.4 381.0 L874.0 381.0" stroke="#1a1a1a" stroke-width="1.5" fill="none"/><path d="M874.8 342 L886.3 349.8 V376.4 L874.8 384 Z" fill="#c9c9c9" stroke="#1a1a1a" stroke-width="1.1"/><rect x="886.3" y="349.6" width="18.2" height="26.8" rx="2" fill="#c9c9c9" stroke="#1a1a1a" stroke-width="1.4"/><path d="M887.0999999999999 353.4 L903.7 353.4" stroke="#1a1a1a" stroke-width="1.5" fill="none"/><path d="M887.0999999999999 357.3 L903.7 357.3" stroke="#1a1a1a" stroke-width="1.5" fill="none"/><path d="M887.0999999999999 361.1 L903.7 361.1" stroke="#1a1a1a" stroke-width="1.5" fill="none"/><path d="M887.0999999999999 364.9 L903.7 364.9" stroke="#1a1a1a" stroke-width="1.5" fill="none"/><path d="M887.0999999999999 368.7 L903.7 368.7" stroke="#1a1a1a" stroke-width="1.5" fill="none"/><path d="M887.0999999999999 372.6 L903.7 372.6" stroke="#1a1a1a" stroke-width="1.5" fill="none"/><rect x="904.5" y="351.7" width="5.7" height="21.8" rx="1.5" fill="#c9c9c9" stroke="#1a1a1a" stroke-width="1.2"/><path d="M910.2 353 L910.2 372.5" stroke="#1a1a1a" stroke-width="2.2" fill="none"/><path d="M636.4 362.5 H921.7" stroke="#1a1a1a" stroke-width="0.9" stroke-dasharray="11 2.5 2 2.5" fill="none"/><ellipse cx="728.8" cy="309.2" rx="1.9" ry="1.9" fill="none" stroke="#8a9299" stroke-width="0.8"/><path d="M728.8 305.7 V312.4" stroke="#8a9299" stroke-width="0.8"/><text x="734" y="311.9" font-size="9.5" fill="#8a9299" text-anchor="start" style="font-family:'Liberation Serif',serif">10</text><text x="747" y="304.5" font-size="6.5" fill="#1a1a1a" text-anchor="start" style="font-family:'Liberation Serif',serif" font-weight="bold">0</text><text x="744.5" y="312.5" font-size="5.5" fill="#8a9299" text-anchor="start" style="font-family:'Liberation Serif',serif">-0.011</text><path d="M720.1 316.5 L765.5 316.5" stroke="#1a1a1a" stroke-width="0.9" fill="none"/><path d="M720.2 316.5 L720.2 375.4" stroke="#1a1a1a" stroke-width="1.1" fill="none"/><ellipse cx="777.6" cy="309.2" rx="1.9" ry="1.9" fill="none" stroke="#8a9299" stroke-width="0.8"/><path d="M777.6 305.7 V312.4" stroke="#8a9299" stroke-width="0.8"/><text x="782.8" y="311.9" font-size="9.5" fill="#8a9299" text-anchor="start" style="font-family:'Liberation Serif',serif">20</text><path d="M767.4 316.5 L800.5 316.5" stroke="#1a1a1a" stroke-width="1.2" fill="none"/><path d="M767.5 316.5 L767.5 384" stroke="#1a1a1a" stroke-width="1.7" fill="none"/><ellipse cx="897.1" cy="309.2" rx="1.9" ry="1.9" fill="none" stroke="#8a9299" stroke-width="0.8"/><path d="M897.1 305.7 V312.4" stroke="#8a9299" stroke-width="0.8"/><text x="902.5" y="311.9" font-size="9.5" fill="#8a9299" text-anchor="start" style="font-family:'Liberation Serif',serif" letter-spacing="0.6">19.5</text><path d="M890.1 316.5 L922 316.5" stroke="#1a1a1a" stroke-width="1.5" fill="none"/><path d="M921.7 316.5 L921.7 384.6" stroke="#1a1a1a" stroke-width="1.0" fill="none"/><path d="M874 341.4 L927.5 341.4" stroke="#1a1a1a" stroke-width="0.9" fill="none"/><path d="M874 384.4 L927.5 384.4" stroke="#1a1a1a" stroke-width="0.9" fill="none"/><polygon points="921.7,341.4 920.5,347.9 922.9,347.9" fill="#1a1a1a"/><polygon points="921.7,384.4 920.5,377.9 922.9,377.9" fill="#1a1a1a"/><path d="M645.6 370 L645.6 430.5" stroke="#1a1a1a" stroke-width="1.3" fill="none"/><path d="M703.8 373 L703.8 415" stroke="#1a1a1a" stroke-width="1.3" fill="none"/><path d="M717.2 375 L717.2 399" stroke="#1a1a1a" stroke-width="0.9" fill="none"/><path d="M742.5 382 L742.5 415" stroke="#1a1a1a" stroke-width="0.9" fill="none"/><path d="M910.2 373.5 L910.2 430.6" stroke="#1a1a1a" stroke-width="1.2" fill="none"/><path d="M693.2 395.2 L731.6 395.2" stroke="#1a1a1a" stroke-width="0.9" fill="none"/><polygon points="703.8,395.2 698.8,393.7 698.8,396.7" fill="#1a1a1a"/><polygon points="717.2,395.2 722.2,393.7 722.2,396.7" fill="#1a1a1a"/><text x="710.9" y="393.1" font-size="10" fill="#1a1a1a" stroke="#1a1a1a" stroke-width="0.15" text-anchor="middle">6</text><path d="M645.6 411.8 L703.8 411.8" stroke="#1a1a1a" stroke-width="0.9" fill="none"/><polygon points="645.6,411.8 651.6,410.3 651.6,413.3" fill="#1a1a1a"/><polygon points="703.8,411.8 697.8,410.3 697.8,413.3" fill="#1a1a1a"/><text x="677.9" y="409.5" font-size="10" fill="#1a1a1a" stroke="#1a1a1a" stroke-width="0.15" text-anchor="middle">27</text><path d="M703.8 411.8 L742.5 411.8" stroke="#1a1a1a" stroke-width="0.9" fill="none"/><polygon points="703.8,411.8 709.8,410.3 709.8,413.3" fill="#1a1a1a"/><polygon points="742.5,411.8 736.5,410.3 736.5,413.3" fill="#1a1a1a"/><text x="721.8" y="409.5" font-size="10" fill="#1a1a1a" stroke="#1a1a1a" stroke-width="0.15" text-anchor="middle">15</text><path d="M645.6 428.5 L910.2 428.5" stroke="#1a1a1a" stroke-width="0.9" fill="none"/><polygon points="645.6,428.5 651.6,427.0 651.6,430.0" fill="#1a1a1a"/><polygon points="910.2,428.5 904.2,427.0 904.2,430.0" fill="#1a1a1a"/><text x="777" y="425.4" font-size="10" fill="#1a1a1a" stroke="#1a1a1a" stroke-width="0.15" text-anchor="middle">118</text></g>
<g><rect x="578.7" y="559.1" width="79.0" height="20.5" rx="0" fill="#c9c9c9" stroke="#1a1a1a" stroke-width="1.1"/><path d="M578.7 559.1 L657.7 559.1" stroke="#1a1a1a" stroke-width="1.4" fill="none"/><path d="M581.8 559.6 L581.8 579.2" stroke="#1a1a1a" stroke-width="0.8" fill="none" stroke-dasharray="1 1"/><rect x="657.7" y="552.3" width="42.3" height="34.3" rx="0.8" fill="#c9c9c9" stroke="#1a1a1a" stroke-width="1.3"/><rect x="700" y="555.3" width="3.6" height="27.5" rx="0" fill="#c9c9c9" stroke="#1a1a1a" stroke-width="1.3"/><rect x="703.6" y="542.6" width="6.1" height="52.5" rx="0" fill="#c9c9c9" stroke="#1a1a1a" stroke-width="1.2"/><path d="M714.2 538.3 H738.9 L743.4 542.8 V595.9 L738.9 600.4 H714.2 L709.7 595.9 V542.8 Z" fill="#d2d2d2" stroke="#1a1a1a" stroke-width="1.3"/><path d="M714.2 538.3 H738.9 L743.4 542.8 V595.9 L738.9 600.4 H714.2 L709.7 595.9 V542.8 Z" fill="url(#h3a)" stroke="#1a1a1a" stroke-width="1.7"/><rect x="743.4" y="548.2" width="7.7" height="43.3" rx="0" fill="#c9c9c9" stroke="#1a1a1a" stroke-width="1.0"/><path d="M751.1 546 L768.4 543.4 V595.2 L751.1 593.4 Z" fill="#c9c9c9" stroke="#1a1a1a" stroke-width="1.1"/><path d="M752.3 547.5 L761 547.5" stroke="#1a1a1a" stroke-width="0.9" fill="none"/><path d="M752.3 550.3 L761 550.3" stroke="#1a1a1a" stroke-width="0.9" fill="none"/><path d="M752.3 553.0 L761 553.0" stroke="#1a1a1a" stroke-width="0.9" fill="none"/><path d="M752.3 555.7 L766.5 555.7" stroke="#1a1a1a" stroke-width="0.9" fill="none"/><path d="M752.3 558.4 L761 558.4" stroke="#1a1a1a" stroke-width="0.9" fill="none"/><path d="M752.3 561.1 L761 561.1" stroke="#1a1a1a" stroke-width="0.9" fill="none"/><path d="M752.3 563.9 L761 563.9" stroke="#1a1a1a" stroke-width="0.9" fill="none"/><path d="M752.3 566.6 L761 566.6" stroke="#1a1a1a" stroke-width="0.9" fill="none"/><path d="M752.3 569.3 L766.5 569.3" stroke="#1a1a1a" stroke-width="0.9" fill="none"/><path d="M752.3 572.0 L761 572.0" stroke="#1a1a1a" stroke-width="0.9" fill="none"/><path d="M752.3 574.7 L761 574.7" stroke="#1a1a1a" stroke-width="0.9" fill="none"/><path d="M752.3 577.5 L761 577.5" stroke="#1a1a1a" stroke-width="0.9" fill="none"/><path d="M752.3 580.2 L761 580.2" stroke="#1a1a1a" stroke-width="0.9" fill="none"/><path d="M752.3 582.9 L766.5 582.9" stroke="#1a1a1a" stroke-width="0.9" fill="none"/><path d="M752.3 585.6 L761 585.6" stroke="#1a1a1a" stroke-width="0.9" fill="none"/><path d="M752.3 588.3 L761 588.3" stroke="#1a1a1a" stroke-width="0.9" fill="none"/><path d="M752.3 591.1 L761 591.1" stroke="#1a1a1a" stroke-width="0.9" fill="none"/><rect x="768.4" y="543.8" width="50.0" height="51.4" rx="0" fill="#c9c9c9" stroke="#1a1a1a" stroke-width="1.3"/><text x="774" y="557.8" font-size="8" fill="#1a1a1a" text-anchor="start" font-weight="bold">5</text><text x="774" y="572.2" font-size="8" fill="#1a1a1a" text-anchor="start" font-weight="bold">0</text><text x="772" y="585.5" font-size="8" fill="#1a1a1a" text-anchor="start" font-weight="bold">45</text><rect x="818.7" y="540.4" width="57.0" height="58.2" rx="3.5" fill="#d2d2d2"/><rect x="818.7" y="540.4" width="57.0" height="58.2" rx="3.5" fill="url(#h3)"/><rect x="818.7" y="540.4" width="57.0" height="58.2" rx="3.5" fill="none" stroke="#1a1a1a" stroke-width="1.7"/><rect x="875.7" y="555.5" width="11.8" height="27.1" rx="0" fill="#c9c9c9" stroke="#1a1a1a" stroke-width="1.2"/><ellipse cx="881.6" cy="569.4" rx="2.2" ry="2" fill="#e8e8e8" stroke="#1a1a1a" stroke-width="1.1"/><rect x="887.5" y="556.4" width="10.4" height="25.7" rx="0" fill="#c9c9c9" stroke="#1a1a1a" stroke-width="1.1"/><rect x="897.9" y="554.2" width="30.6" height="30.6" rx="3" fill="#d2d2d2"/><rect x="897.9" y="554.2" width="30.6" height="30.6" rx="3" fill="url(#h3c)"/><rect x="897.9" y="554.2" width="30.6" height="30.6" rx="3" fill="none" stroke="#1a1a1a" stroke-width="1.6"/><path d="M573 569.3 H942.3" stroke="#1a1a1a" stroke-width="0.9" stroke-dasharray="11 2.5 2 2.5" fill="none"/><ellipse cx="568.0" cy="503.2" rx="2.4" ry="2.3" fill="none" stroke="#555" stroke-width="0.8"/><path d="M568.0 499.0 V507.2" stroke="#555" stroke-width="0.8"/><text x="574.5" y="506.6" font-size="11" fill="#1a1a1a" stroke="#1a1a1a" stroke-width="0.15" text-anchor="start">6.5</text><path d="M563.9 510.4 L591.4 510.4" stroke="#555" stroke-width="0.8" fill="none"/><path d="M591.4 510.4 L591.4 593" stroke="#333" stroke-width="0.9" fill="none"/><polygon points="591.4,559.1 590.1,552.1 592.7,552.1" fill="#1a1a1a"/><polygon points="591.4,579.6 590.1,586.6 592.7,586.6" fill="#1a1a1a"/><ellipse cx="636.5" cy="503.2" rx="2.4" ry="2.3" fill="none" stroke="#555" stroke-width="0.8"/><path d="M636.5 499.0 V507.2" stroke="#555" stroke-width="0.8"/><text x="643" y="506.6" font-size="11" fill="#1a1a1a" stroke="#1a1a1a" stroke-width="0.15" text-anchor="start">10</text><text x="655.3" y="506.6" font-size="8.7" fill="#1a1a1a" text-anchor="start">-0.011</text><text x="661.5" y="495.2" font-size="7.5" fill="#1a1a1a" text-anchor="middle">0</text><path d="M634.4 510 L681 510" stroke="#1a1a1a" stroke-width="0.9" fill="none"/><path d="M681 510 L681 586.6" stroke="#1a1a1a" stroke-width="0.9" fill="none"/><polygon points="681.0,552.3 679.5,560.3 682.5,560.3" fill="#1a1a1a"/><polygon points="681.0,586.6 679.5,578.6 682.5,578.6" fill="#1a1a1a"/><ellipse cx="710.2" cy="503.2" rx="2.4" ry="2.3" fill="none" stroke="#555" stroke-width="0.8"/><path d="M710.2 499.0 V507.2" stroke="#555" stroke-width="0.8"/><text x="716.6" y="506.6" font-size="11" fill="#1a1a1a" stroke="#1a1a1a" stroke-width="0.15" text-anchor="start">20</text><path d="M701.5 510 L730.9 510" stroke="#1a1a1a" stroke-width="0.9" fill="none"/><path d="M730.7 510 L730.7 600.4" stroke="#1a1a1a" stroke-width="0.9" fill="none"/><polygon points="730.7,538.3 729.2,546.3 732.2,546.3" fill="#1a1a1a"/><polygon points="730.7,600.4 729.2,592.4 732.2,592.4" fill="#1a1a1a"/><ellipse cx="925.3" cy="503.8" rx="2.4" ry="2.3" fill="none" stroke="#8a9299" stroke-width="0.8"/><path d="M925.3 499.6 V507.8" stroke="#8a9299" stroke-width="0.8"/><text x="931.5" y="507.2" font-size="11" fill="#8a9299" text-anchor="start" style="font-family:'Liberation Serif',serif">6. 5</text><path d="M920.1 510.5 L946.5 510.5" stroke="#8a9299" stroke-width="0.9" fill="none"/><path d="M946.3 510.5 L946.3 540.4" stroke="#8a9299" stroke-width="0.9" fill="none"/><path d="M946.3 540.4 L946.3 598.1" stroke="#1a1a1a" stroke-width="1.0" fill="none"/><path d="M875 540.4 L949.6 540.4" stroke="#777" stroke-width="0.9" fill="none"/><path d="M875 598.1 L949.6 598.1" stroke="#777" stroke-width="0.9" fill="none"/><polygon points="946.3,540.4 944.9,548.4 947.7,548.4" fill="#1a1a1a"/><polygon points="946.3,598.1 944.9,590.1 947.7,590.1" fill="#1a1a1a"/><path d="M578.7 580 L578.7 658.6" stroke="#1a1a1a" stroke-width="0.9" fill="none"/><path d="M657.7 587 L657.7 631.5" stroke="#1a1a1a" stroke-width="0.9" fill="none"/><path d="M703.6 595 L703.6 631.5" stroke="#1a1a1a" stroke-width="0.9" fill="none"/><path d="M928.5 585 L928.5 659.1" stroke="#1a1a1a" stroke-width="0.9" fill="none"/><path d="M578.7 628.5 L657.7 628.5" stroke="#1a1a1a" stroke-width="0.9" fill="none"/><polygon points="578.7,628.5 586.7,627.0 586.7,630.0" fill="#1a1a1a"/><polygon points="657.7,628.5 649.7,627.0 649.7,630.0" fill="#1a1a1a"/><text x="622.7" y="625.8" font-size="11" fill="#1a1a1a" stroke="#1a1a1a" stroke-width="0.15" text-anchor="middle">27</text><path d="M657.7 628.5 L703.6 628.5" stroke="#1a1a1a" stroke-width="0.9" fill="none"/><polygon points="657.7,628.5 665.7,627.0 665.7,630.0" fill="#1a1a1a"/><polygon points="703.6,628.5 695.6,627.0 695.6,630.0" fill="#1a1a1a"/><text x="682" y="626.3" font-size="11" fill="#1a1a1a" stroke="#1a1a1a" stroke-width="0.15" text-anchor="middle">15</text><path d="M578.7 655.6 L928.5 655.6" stroke="#1a1a1a" stroke-width="0.9" fill="none"/><polygon points="578.7,655.6 586.7,654.1 586.7,657.1" fill="#1a1a1a"/><polygon points="928.5,655.6 920.5,654.1 920.5,657.1" fill="#1a1a1a"/><text x="743" y="653.3" font-size="11" fill="#1a1a1a" stroke="#1a1a1a" stroke-width="0.15" text-anchor="middle">121</text></g>
<g><circle cx="576.3" cy="768.5" r="17.4" fill="#c9c9c9" stroke="#1a1a1a" stroke-width="2.2"/><circle cx="576.3" cy="768.5" r="11.3" fill="#d4d4d4" stroke="#1a1a1a" stroke-width="2.0"/><rect x="557.3" y="766.9" width="3.8" height="3.2" fill="#fff"/><rect x="591.5" y="766.9" width="3.8" height="3.2" fill="#fff"/><path d="M555 768.5 L603.5 768.5" stroke="#1a1a1a" stroke-width="0.8" fill="none"/><path d="M576.3 746.8 L576.3 790.7" stroke="#1a1a1a" stroke-width="0.8" fill="none"/><path d="M626.7 724.6 L603.5 724.6" stroke="#444" stroke-width="0.8" fill="none"/><path d="M603.5 724.6 L568.2 781.7" stroke="#1a1a1a" stroke-width="0.9" fill="none"/><ellipse cx="607.9" cy="717.9" rx="1.9" ry="1.9" fill="none" stroke="#8a9299" stroke-width="0.8"/><path d="M607.9 714.4 V721.1" stroke="#8a9299" stroke-width="0.8"/><text x="613.3" y="720.6" font-size="10" fill="#1a1a1a" stroke="#1a1a1a" stroke-width="0.15" text-anchor="start">14</text><rect x="620.8" y="750.6" width="11.1" height="35.5" rx="1" fill="#c9c9c9" stroke="#1a1a1a" stroke-width="1.2"/><path d="M621.5 750.6 L621.5 786.1" stroke="#1a1a1a" stroke-width="2.4" fill="none"/><path d="M620.8 765.5 L631.9 765.5" stroke="#1a1a1a" stroke-width="0.8" fill="none"/><path d="M620.8 771.6 L631.9 771.6" stroke="#1a1a1a" stroke-width="0.8" fill="none"/><rect x="621.8" y="766.1" width="9" height="5" fill="#e4e4e4"/><path d="M609.1 768.5 H637.7" stroke="#1a1a1a" stroke-width="0.8" stroke-dasharray="13 2 3 2"/><path d="M620.6 786 L620.6 803.8" stroke="#666" stroke-width="0.8" fill="none"/><path d="M632.1 786 L632.1 803.8" stroke="#666" stroke-width="0.8" fill="none"/><path d="M609.1 801.4 L643.8 801.4" stroke="#1a1a1a" stroke-width="0.9" fill="none"/><polygon points="620.6,801.4 615.6,799.9 615.6,802.9" fill="#1a1a1a"/><polygon points="632.1,801.4 637.1,799.9 637.1,802.9" fill="#1a1a1a"/><text x="626.5" y="800.6" font-size="9" fill="#1a1a1a" text-anchor="middle">4</text><ellipse cx="656.2" cy="717.9" rx="1.9" ry="1.9" fill="none" stroke="#8a9299" stroke-width="0.8"/><path d="M656.2 714.4 V721.1" stroke="#8a9299" stroke-width="0.8"/><text x="661.7" y="720.6" font-size="10" fill="#1a1a1a" stroke="#1a1a1a" stroke-width="0.15" text-anchor="start">6.5</text><path d="M652.3 724.6 L678.1 724.6" stroke="#444" stroke-width="0.8" fill="none"/><path d="M652.4 724.6 L652.4 786.7" stroke="#1a1a1a" stroke-width="1.0" fill="none"/><path d="M649.8 761.5 L688 761.5" stroke="#777" stroke-width="0.8" fill="none"/><path d="M649.8 775.6 L688 775.6" stroke="#1a1a1a" stroke-width="0.9" fill="none"/><polygon points="652.4,761.5 651.2,755.5 653.6,755.5" fill="#1a1a1a"/><polygon points="652.4,775.6 651.2,781.6 653.6,781.6" fill="#1a1a1a"/><text x="693.8" y="720.6" font-size="10" fill="#1a1a1a" stroke="#1a1a1a" stroke-width="0.15" text-anchor="start" textLength="45.3" lengthAdjust="spacingAndGlyphs">M9.5X0.5</text><path d="M708.3 712.1 L708.3 726.2" stroke="#1a1a1a" stroke-width="0.9" fill="none"/><path d="M691.2 724.6 L741 724.6" stroke="#444" stroke-width="0.8" fill="none"/><path d="M691.2 724.6 L743.6 758.5" stroke="#1a1a1a" stroke-width="0.9" fill="none"/><polygon points="743.8,758.7 738,757 739.8,754.2" fill="#1a1a1a"/><rect x="688.1" y="761.5" width="54.7" height="14.1" rx="0" fill="#c9c9c9" stroke="#1a1a1a" stroke-width="1.0"/><path d="M688.1 761.5 L742.8 761.5" stroke="#1a1a1a" stroke-width="1.5" fill="none"/><path d="M690.3 762 L690.3 775.2" stroke="#1a1a1a" stroke-width="0.8" fill="none"/><rect x="742.8" y="759.1" width="10.4" height="18.6" rx="0.8" fill="#c9c9c9" stroke="#1a1a1a" stroke-width="1.2"/><path d="M742.8 777.9 L753.2 777.9" stroke="#1a1a1a" stroke-width="1.8" fill="none"/><rect x="755" y="756.8" width="20.2" height="23.2" rx="1.2" fill="#c9c9c9" stroke="#1a1a1a" stroke-width="1.2"/><rect x="775.2" y="759.1" width="4.0" height="18.6" rx="0" fill="#c9c9c9" stroke="#1a1a1a" stroke-width="1.0"/><rect x="779.2" y="750.5" width="4.3" height="35.8" rx="0" fill="#c9c9c9" stroke="#1a1a1a" stroke-width="1.1"/><path d="M786.7 747.3 H804.4 L807.6 750.5 V786.6999999999999 L804.4 789.9 H786.7 L783.5 786.6999999999999 V750.5 Z" fill="#d2d2d2" stroke="#1a1a1a" stroke-width="1.3"/><path d="M786.7 747.3 H804.4 L807.6 750.5 V786.6999999999999 L804.4 789.9 H786.7 L783.5 786.6999999999999 V750.5 Z" fill="url(#h4a)" stroke="#1a1a1a" stroke-width="1.5"/><rect x="807.7" y="753.8" width="5.3" height="29.7" rx="0" fill="#c9c9c9" stroke="#1a1a1a" stroke-width="0.9"/><path d="M813 753.8 L826.2 752 V785 L813 783.6 Z" fill="#c9c9c9" stroke="#1a1a1a" stroke-width="1.0"/><path d="M813.8 755.0 L821.5 755.0" stroke="#1a1a1a" stroke-width="1.0" fill="none"/><path d="M813.8 757.3 L819.5 757.3" stroke="#1a1a1a" stroke-width="1.0" fill="none"/><path d="M813.8 759.6 L819.5 759.6" stroke="#1a1a1a" stroke-width="1.0" fill="none"/><path d="M813.8 761.9 L819.5 761.9" stroke="#1a1a1a" stroke-width="1.0" fill="none"/><path d="M813.8 764.2 L821.5 764.2" stroke="#1a1a1a" stroke-width="1.0" fill="none"/><path d="M813.8 766.5 L819.5 766.5" stroke="#1a1a1a" stroke-width="1.0" fill="none"/><path d="M813.8 768.8 L819.5 768.8" stroke="#1a1a1a" stroke-width="1.0" fill="none"/><path d="M813.8 771.1 L819.5 771.1" stroke="#1a1a1a" stroke-width="1.0" fill="none"/><path d="M813.8 773.4 L821.5 773.4" stroke="#1a1a1a" stroke-width="1.0" fill="none"/><path d="M813.8 775.7 L819.5 775.7" stroke="#1a1a1a" stroke-width="1.0" fill="none"/><path d="M813.8 778.0 L819.5 778.0" stroke="#1a1a1a" stroke-width="1.0" fill="none"/><path d="M813.8 780.3 L819.5 780.3" stroke="#1a1a1a" stroke-width="1.0" fill="none"/><path d="M813.8 782.6 L821.5 782.6" stroke="#1a1a1a" stroke-width="1.0" fill="none"/><path d="M814 753.5 L814 784" stroke="#1a1a1a" stroke-width="2.2" fill="none"/><rect x="826.2" y="751.5" width="33.6" height="34.3" rx="0" fill="#c9c9c9" stroke="#1a1a1a" stroke-width="1.3"/><text x="828.5" y="761.5" font-size="6.5" fill="#1a1a1a" text-anchor="start" font-weight="bold">5</text><ellipse cx="830.3" cy="768.6" rx="1.9" ry="2.1" fill="#1a1a1a"/><text x="827.5" y="779.8" font-size="6" fill="#1a1a1a" text-anchor="start" font-weight="bold">45</text><rect x="859.8" y="749.2" width="41.3" height="39.4" rx="2.5" fill="#d2d2d2"/><rect x="859.8" y="749.2" width="41.3" height="39.4" rx="2.5" fill="url(#h4)"/><rect x="859.8" y="749.2" width="41.3" height="39.4" rx="2.5" fill="none" stroke="#1a1a1a" stroke-width="1.6"/><rect x="901.1" y="759.8" width="6.3" height="17.9" rx="0" fill="#c9c9c9" stroke="#1a1a1a" stroke-width="1.0"/><circle cx="904" cy="768.6" r="1.8" fill="#333"/><rect x="907.4" y="759.1" width="8.1" height="19.3" rx="0" fill="#c9c9c9" stroke="#1a1a1a" stroke-width="1.0"/><rect x="915.5" y="758.4" width="21.3" height="20.4" rx="2" fill="#d2d2d2"/><rect x="915.5" y="758.4" width="21.3" height="20.4" rx="2" fill="url(#h4c)"/><rect x="915.5" y="758.4" width="21.3" height="20.4" rx="2" fill="none" stroke="#1a1a1a" stroke-width="1.4"/><path d="M683 768.5 H941.5" stroke="#1a1a1a" stroke-width="0.9" stroke-dasharray="11 2.5 2 2.5" fill="none"/><ellipse cx="770.1" cy="717.5" rx="2.1" ry="2.0" fill="none" stroke="#555" stroke-width="0.8"/><path d="M770.1 713.8 V721.0" stroke="#555" stroke-width="0.8"/><text x="776" y="720.4" font-size="10" fill="#1a1a1a" stroke="#1a1a1a" stroke-width="0.15" text-anchor="start">10</text><text x="787" y="720.4" font-size="7.3" fill="#1a1a1a" text-anchor="start">-0.011</text><text x="792.1" y="711.1" font-size="7" fill="#1a1a1a" text-anchor="middle">0</text><path d="M766.6 723.9 L813.9 723.9" stroke="#1a1a1a" stroke-width="0.9" fill="none"/><path d="M766.6 723.9 L766.6 780" stroke="#1a1a1a" stroke-width="0.9" fill="none"/><polygon points="766.6,756.8 765.3,762.8 767.9,762.8" fill="#1a1a1a"/><polygon points="766.6,780.0 765.3,774.0 767.9,774.0" fill="#1a1a1a"/><ellipse cx="802.3" cy="809.6" rx="2.1" ry="2.0" fill="none" stroke="#555" stroke-width="0.8"/><path d="M802.3 805.9 V813.1" stroke="#555" stroke-width="0.8"/><text x="808" y="812.5" font-size="10" fill="#1a1a1a" stroke="#1a1a1a" stroke-width="0.15" text-anchor="start">20</text><path d="M796.1 749.8 L796.1 814.8" stroke="#1a1a1a" stroke-width="0.9" fill="none"/><path d="M796.1 814.8 L822.7 814.8" stroke="#1a1a1a" stroke-width="0.9" fill="none"/><polygon points="796.1,747.5 794.8,754.0 797.4,754.0" fill="#1a1a1a"/><polygon points="796.1,790.0 794.8,783.5 797.4,783.5" fill="#1a1a1a"/><ellipse cx="929.3" cy="717.5" rx="2.1" ry="2.0" fill="none" stroke="#8a9299" stroke-width="0.8"/><path d="M929.3 713.8 V721.0" stroke="#8a9299" stroke-width="0.8"/><text x="935" y="720.4" font-size="10" fill="#8a9299" text-anchor="start" style="font-family:'Liberation Serif',serif">18</text><path d="M926.6 725.5 L949.3 725.5" stroke="#8a9299" stroke-width="0.8" fill="none"/><path d="M949.1 725.5 L949.1 749.2" stroke="#8a9299" stroke-width="0.8" fill="none"/><path d="M949.1 749.2 L949.1 788.1" stroke="#1a1a1a" stroke-width="0.9" fill="none"/><path d="M901 749.2 L952.1 749.2" stroke="#555" stroke-width="0.8" fill="none"/><path d="M901 788.1 L952.1 788.1" stroke="#9a9a9a" stroke-width="1.6" fill="none"/><polygon points="949.1,749.2 947.9,755.7 950.3,755.7" fill="#1a1a1a"/><polygon points="949.1,788.1 947.9,781.6 950.3,781.6" fill="#1a1a1a"/><path d="M688.1 776 L688.1 838.1" stroke="#1a1a1a" stroke-width="0.9" fill="none"/><path d="M742.8 778 L742.8 818.5" stroke="#1a1a1a" stroke-width="0.9" fill="none"/><path d="M755 780 L755 801" stroke="#1a1a1a" stroke-width="0.9" fill="none"/><path d="M779.2 786 L779.2 818.5" stroke="#1a1a1a" stroke-width="0.9" fill="none"/><path d="M936.4 779 L936.4 838.7" stroke="#1a1a1a" stroke-width="0.9" fill="none"/><path d="M732.8 797.8 L768.3 797.8" stroke="#1a1a1a" stroke-width="0.9" fill="none"/><polygon points="742.8,797.8 737.8,796.3 737.8,799.3" fill="#1a1a1a"/><polygon points="755.0,797.8 760.0,796.3 760.0,799.3" fill="#1a1a1a"/><text x="748.5" y="795.5" font-size="9" fill="#1a1a1a" text-anchor="middle">6</text><path d="M688.1 815.3 L742.8 815.3" stroke="#1a1a1a" stroke-width="0.9" fill="none"/><polygon points="688.1,815.3 694.1,813.8 694.1,816.8" fill="#1a1a1a"/><polygon points="742.8,815.3 736.8,813.8 736.8,816.8" fill="#1a1a1a"/><text x="718" y="812.5" font-size="10" fill="#1a1a1a" stroke="#1a1a1a" stroke-width="0.15" text-anchor="middle">27</text><path d="M742.8 815.3 L779.2 815.3" stroke="#1a1a1a" stroke-width="0.9" fill="none"/><polygon points="742.8,815.3 748.8,813.8 748.8,816.8" fill="#1a1a1a"/><polygon points="779.2,815.3 773.2,813.8 773.2,816.8" fill="#1a1a1a"/><text x="759.7" y="812.5" font-size="10" fill="#1a1a1a" stroke="#1a1a1a" stroke-width="0.15" text-anchor="middle">15</text><path d="M688.1 834.8 L936.4 834.8" stroke="#1a1a1a" stroke-width="0.9" fill="none"/><polygon points="688.1,834.8 694.1,833.3 694.1,836.3" fill="#1a1a1a"/><polygon points="936.4,834.8 930.4,833.3 930.4,836.3" fill="#1a1a1a"/><text x="804.2" y="833.3" font-size="10" fill="#1a1a1a" stroke="#1a1a1a" stroke-width="0.15" text-anchor="middle">121</text></g>
</svg>
<div class="t13" style="left:639px;top:241.6px;color:#222;">05562067 / 05562068 / 05562069 / 05562070</div>
<div class="t13" style="left:639px;top:450.6px;color:#222;">05562073 / 05562074 / 05562075 / 05562076</div>
<div class="t13" style="left:639px;top:667.1px;color:#222;">05562065 / 05562066</div>
<div class="t13" style="left:639px;top:840.6px;color:#222;">05562071 / 05562072</div>
</body></html>
